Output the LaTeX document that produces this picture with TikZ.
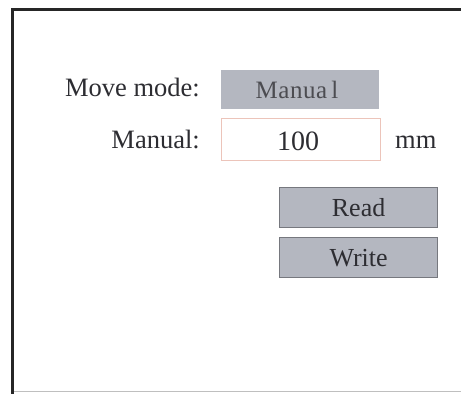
\documentclass[tikz,border=0pt]{standalone}
\usepackage{fontspec}
\setmainfont{Liberation Serif}
\definecolor{boxfill}{RGB}{180,183,192}
\definecolor{btnedge}{RGB}{118,120,126}
\definecolor{inedge}{RGB}{236,196,186}
\definecolor{txt}{RGB}{45,45,50}
\begin{document}
\begin{tikzpicture}[x=1pt,y=-1pt,
  lbl/.style={font=\fontsize{26.5}{30}\selectfont, text=txt, inner sep=0pt},
  greybox/.style={fill=boxfill, draw=none, minimum width=158pt, minimum height=39pt, inner sep=0pt},
  btn/.style={fill=boxfill, draw=btnedge, line width=1.2pt, minimum width=158pt, minimum height=40pt, inner sep=0pt, font=\fontsize{26}{30}\selectfont, text=txt},
  inbox/.style={fill=white, draw=inedge, line width=1.2pt, minimum width=159pt, minimum height=42pt, inner sep=0pt}]
\useasboundingbox (0,0) rectangle (461,394);
\fill[white] (0,0) rectangle (461,394);
% frame
\coordinate (tl) at (12.5,9.5);
\coordinate (tr) at (461,9.5);
\coordinate (bl) at (12.5,394);
\coordinate (br) at (461,391.5);
\coordinate (bl2) at (14,391.5);
\draw[black!85, line width=2.8pt] (tr) -- (tl) -- (bl);
\draw[black!25, line width=1.2pt] (bl2) -- (br);
% rows
\node[lbl, anchor=base east] (mmlabel) at (200,96) {Move mode:};
\node[greybox, anchor=north west] (mmbox) at (221,70) {};
\node[font=\fontsize{25}{28}\selectfont, text=txt!85, inner sep=0pt, anchor=base] (mmval) at (297,98) {\addfontfeature{LetterSpace=2}Manua\,l};
\node[lbl, anchor=base east] (manlabel) at (200,148) {Manual:};
\node[inbox, anchor=north west] (manbox) at (221,118) {};
\node[font=\fontsize{28}{30}\selectfont, text=txt, inner sep=0pt, anchor=base] (manval) at (298,150) {100};
\node[lbl, anchor=base west] (mm) at (395,148) {mm};
\node[btn, anchor=north west] (read) at (279,187) {Read};
\node[btn, anchor=north west] (write) at (279,237) {Write};
\end{tikzpicture}
\end{document}
